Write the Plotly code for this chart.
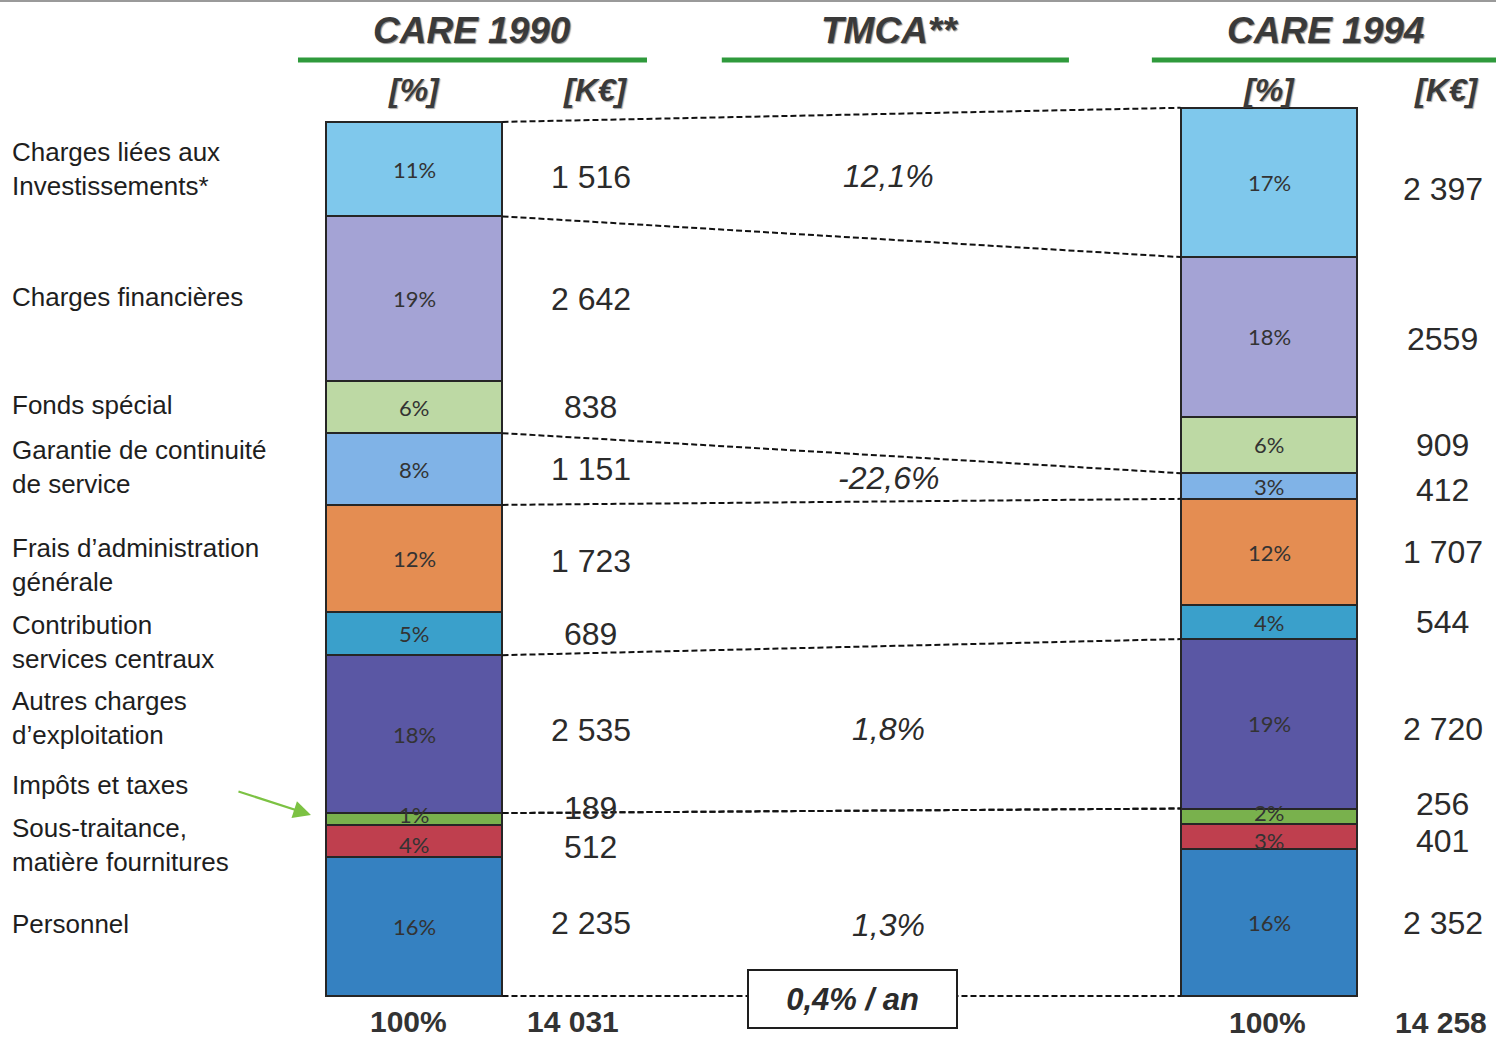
import plotly.graph_objects as go

# ---------------- data ----------------
categories = [
    "Charges liées aux<br>Investissements*",
    "Charges financières",
    "Fonds spécial",
    "Garantie de continuité<br>de service",
    "Frais d’administration<br>générale",
    "Contribution<br>services centraux",
    "Autres charges<br>d’exploitation",
    "Impôts et taxes",
    "Sous-traitance,<br>matière fournitures",
    "Personnel",
]
values_1990 = [1516, 2642, 838, 1151, 1723, 689, 2535, 189, 512, 2235]
values_1994 = [2397, 2559, 909, 412, 1707, 544, 2720, 256, 401, 2352]
pct_1990 = ["11%", "19%", "6%", "8%", "12%", "5%", "18%", "1%", "4%", "16%"]
pct_1994 = ["17%", "18%", "6%", "3%", "12%", "4%", "19%", "2%", "3%", "16%"]
keur_1990 = ["1 516", "2 642", "838", "1 151", "1 723", "689", "2 535", "189", "512", "2 235"]
keur_1994 = ["2 397", "2559", "909", "412", "1 707", "544", "2 720", "256", "401", "2 352"]
total_labels = ["14 031", "14 258"]
pct_totals = ["100%", "100%"]
years = ["CARE 1990", "CARE 1994"]
tmca_labels = {"Charges liées aux<br>Investissements*": "12,1%",
               "Garantie de continuité<br>de service": "-22,6%",
               "Autres charges<br>d’exploitation": "1,8%",
               "Personnel": "1,3%"}
tmca_total = "0,4% / an"

# ---------------- style ----------------
colors = ["#7fc8ec", "#a4a3d5", "#bdd9a4", "#80b3e7", "#e48d52",
          "#3aa0cb", "#5a57a4", "#79b14d", "#bf3f4e", "#3581c1"]
W, H = 1496, 1040
BAR_W = 0.207
X0, X1 = 0, 1
# axis: 0 at px 996, 0.0623 px per K€
scale = 0.0623
base_px = 996
y_min = -(H - base_px) / scale
y_max = base_px / scale
x_min = -414 / 855
x_max = (W - 414) / 855

TXT = "#2b2b2b"
ARIAL = "Liberation Sans"

fig = go.Figure()

# stacked bars: bottom first
n = len(categories)
order = list(range(n - 1, -1, -1))
for i in order:
    fig.add_trace(go.Bar(
        x=[X0, X1], y=[values_1990[i], values_1994[i]],
        width=BAR_W, marker=dict(color=colors[i], line=dict(color="#262626", width=2)),
        showlegend=False, hoverinfo="skip"))

# cumulative bottoms/tops
def cum(vals):
    bottoms = [0] * n
    acc = 0
    for i in order:
        bottoms[i] = acc
        acc += vals[i]
    tops = [bottoms[i] + vals[i] for i in range(n)]
    return bottoms, tops, acc

b90, t90, tot90 = cum(values_1990)
b94, t94, tot94 = cum(values_1994)
mid90 = [(b90[i] + t90[i]) / 2 for i in range(n)]
mid94 = [(b94[i] + t94[i]) / 2 for i in range(n)]

# dashed connectors
connect = [(tot90, tot94)]
for name in ["Charges liées aux<br>Investissements*", "Garantie de continuité<br>de service",
             "Autres charges<br>d’exploitation", "Personnel"]:
    k = categories.index(name)
    connect.append((b90[k], b94[k]))
for name in ["Garantie de continuité<br>de service", "Autres charges<br>d’exploitation",
             "Impôts et taxes"]:
    k = categories.index(name)
    connect.append((t90[k], t94[k]))
for ya, yb in connect:
    fig.add_trace(go.Scatter(
        x=[X0 + BAR_W / 2, X1 - BAR_W / 2], y=[ya, yb], mode="lines",
        line=dict(color="#111111", width=2, dash="6px,3px"),
        showlegend=False, hoverinfo="skip"))

ann = []

# percentage labels inside bars
pshift90 = [0, 0, 0, 0, 0, 0, 0, 4, -4, 0]
pshift94 = [0, 0, 0, 0, 0, 0, 0, 4, -4, 0]
for i in range(n):
    for xv, yv, t, s in [(X0, mid90[i], pct_1990[i], pshift90[i]),
                         (X1, mid94[i], pct_1994[i], pshift94[i])]:
        ann.append(dict(x=xv, y=yv, xref="x", yref="y", yshift=s, text=t,
                        showarrow=False, borderpad=0,
                        font=dict(family="Lato", size=22, color="#333333")))

# K€ labels
shift90 = [-8, 0, 0, 0, -2, 0, 4, 11, -6, 3]
shift94 = [-7, -2, 0, -4, 0, 0, -5, 13, -4, 0]
for i in range(n):
    ann.append(dict(x=0.207, y=mid90[i], xref="x", yref="y", yshift=shift90[i],
                    text=keur_1990[i], showarrow=False,
                    font=dict(family=ARIAL, size=32, color=TXT)))
    ann.append(dict(x=1.2035, y=mid94[i], xref="x", yref="y", yshift=shift94[i],
                    text=keur_1994[i], showarrow=False,
                    font=dict(family=ARIAL, size=32, color=TXT)))

# category labels on the left
lshift = [0, 2, 2, 2, -6, -8, 16, 34, -4, 2]
for i in range(n):
    ann.append(dict(x=-0.4725, y=mid90[i], xref="x", yref="y", yshift=lshift[i],
                    xanchor="left", align="left", text=categories[i], showarrow=False,
                    font=dict(family=ARIAL, size=26, color="#1e1e1e")))

# TMCA values
for name, t in tmca_labels.items():
    k = categories.index(name)
    ann.append(dict(x=0.555, y=(mid90[k] + mid94[k]) / 2, xref="x", yref="y",
                    text=t, showarrow=False,
                    font=dict(family=ARIAL, size=32, color=TXT, style="italic")))

# boxed total rate
ann.append(dict(x=0.513, y=0, xref="x", yref="y", yshift=-3, text=tmca_total,
                showarrow=False, width=205, height=54, bgcolor="white",
                bordercolor="#1e1e1e", borderwidth=2,
                font=dict(family=ARIAL, size=31, color=TXT, style="italic", weight="bold")))

def py(p):
    return 1 - p / H

# headers
head_font = dict(family=ARIAL, size=37, color="#3a3a3a", style="italic", weight="bold",
                 shadow="1px 1px 1px rgba(0,0,0,0.45)")
for xv, t in [(0.068, years[0]), (0.556, "TMCA**"), (1.0655, years[1])]:
    ann.append(dict(x=xv, y=py(30), xref="x", yref="paper", xanchor="center",
                    yanchor="middle", text=t, showarrow=False, font=head_font))
sub_font = dict(family=ARIAL, size=32, color="#3a3a3a", style="italic", weight="bold",
                shadow="1px 1px 1px rgba(0,0,0,0.35)")
for xv, t in [(0.0, "[%]"), (0.212, "[K€]"), (1.0, "[%]"), (1.208, "[K€]")]:
    ann.append(dict(x=xv, y=py(90), xref="x", yref="paper", xanchor="center",
                    yanchor="middle", text=t, showarrow=False, font=sub_font))

# totals at the bottom
tot_font = dict(family=ARIAL, size=30, color="#333333", weight="bold")
for xv, p, t in [(-0.006, 1021, pct_totals[0]), (0.186, 1021, total_labels[0]),
                 (0.998, 1022, pct_totals[1]), (1.2015, 1022, total_labels[1])]:
    ann.append(dict(x=xv, y=py(p), xref="x", yref="paper", xanchor="center",
                    yanchor="middle", text=t, showarrow=False, borderpad=0,
                    font=tot_font))

# green arrow pointing to "Impôts et taxes"
k_imp = categories.index("Impôts et taxes")
ann.append(dict(x=-BAR_W / 2 - 0.017, y=mid90[k_imp], xref="x", yref="y", yshift=4,
                ax=-74, ay=-24, axref="pixel", ayref="pixel", text="", showarrow=True,
                arrowhead=2, arrowsize=1.6, arrowwidth=2.2, arrowcolor="#7cc243"))

shapes = []
green = "#2f9a3c"
for xa, xb in [(-0.1357, 0.2725), (0.360, 0.766), (0.863, 1.2655)]:
    shapes.append(dict(type="line", xref="x", yref="paper", x0=xa, x1=xb,
                       y0=py(60), y1=py(60), line=dict(color=green, width=5)))
shapes.append(dict(type="line", xref="paper", yref="paper", x0=0, x1=1, y0=py(1), y1=py(1),
                   line=dict(color="#9a9a9a", width=2)))

fig.update_layout(
    width=W, height=H, autosize=False,
    margin=dict(l=0, r=0, t=0, b=0),
    paper_bgcolor="white", plot_bgcolor="white",
    barmode="stack", bargap=0,
    xaxis=dict(range=[x_min, x_max], visible=False, fixedrange=True),
    yaxis=dict(range=[y_min, y_max], visible=False, fixedrange=True),
    annotations=ann, shapes=shapes, showlegend=False,
)

fig.write_html("out.html")
